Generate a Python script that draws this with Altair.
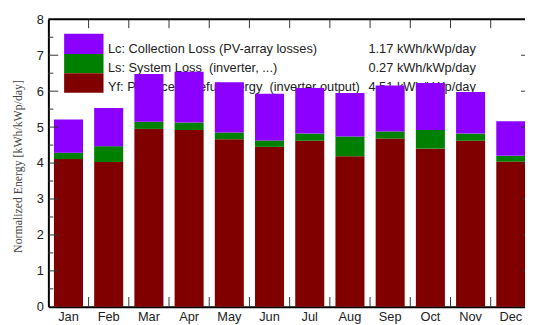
import altair as alt
import pandas as pd

# ---------------- data ----------------
months = ["Jan", "Feb", "Mar", "Apr", "May", "Jun", "Jul", "Aug", "Sep", "Oct", "Nov", "Dec"]
yf_values = [4.11, 4.03, 4.95, 4.92, 4.66, 4.45, 4.62, 4.19, 4.68, 4.40, 4.62, 4.04]
ls_values = [0.18, 0.44, 0.20, 0.21, 0.19, 0.18, 0.20, 0.55, 0.20, 0.52, 0.20, 0.16]
lc_values = [0.92, 1.06, 1.33, 1.41, 1.40, 1.30, 1.27, 1.21, 1.28, 1.31, 1.16, 0.96]

series_names = ["Yf", "Ls", "Lc"]
series_colors = ["#800000", "#008000", "#8b00ff"]

legend_labels = [
    "Lc: Collection Loss (PV-array losses)",
    "Ls: System Loss\u00a0 (inverter, ...)",
    "Yf: Produced useful energy\u00a0 (inverter output)",
]
legend_values = ["1.17 kWh/kWp/day", "0.27 kWh/kWp/day", "4.51 kWh/kWp/day"]
legend_colors = ["#8b00ff", "#008000", "#800000"]

y_major = [1, 2, 3, 4, 5, 6, 7]
y_minor = [0.5, 1.5, 2.5, 3.5, 4.5, 5.5, 6.5, 7.5]
y_labels = [0, 1, 2, 3, 4, 5, 6, 7, 8]

# ---------------- build ----------------
rows = []
for i, m in enumerate(months):
    for k, (s, vals) in enumerate(zip(series_names, [yf_values, ls_values, lc_values])):
        rows.append({"month": m, "series": s, "value": vals[i], "order": k})
df = pd.DataFrame(rows)

W, H = 484, 292
RANGE = 490
PIN, POUT = 0.278, 0.139
step = RANGE / (len(months) - PIN + 2 * POUT)
gap_half = step * POUT

FONT = "Liberation Sans"
YTITLE = "Normalized Energy [kWh/kWp/day]"

xscale = alt.Scale(domain=months, range=[0, RANGE], paddingInner=PIN, paddingOuter=POUT)
yscale = alt.Scale(domain=[0, 8], nice=False, zero=True)

xaxis = alt.Axis(title=None, labelAngle=0, domainColor="black", domainWidth=2,
                 ticks=False, labelFont=FONT, labelFontSize=13, labelColor="#222",
                 labelPadding=4, grid=False)
yaxis = alt.Axis(title=YTITLE, values=y_labels, ticks=False,
                 domainColor="black", domainWidth=2, grid=False,
                 labelFont=FONT, labelFontSize=13, labelColor="#222", labelPadding=5,
                 titleFont="Liberation Serif", titleFontSize=12, titleFontWeight="normal",
                 titleColor="#444", titleX=-27, titleY=149, titleAngle=270,
                 titleAlign="center", titleBaseline="alphabetic")

one = pd.DataFrame({"k": [0]})

bars = alt.Chart(df).mark_bar().encode(
    x=alt.X("month:N", scale=xscale, sort=months, axis=xaxis, title=None),
    y=alt.Y("value:Q", stack="zero", scale=yscale, axis=yaxis, title=YTITLE),
    color=alt.Color("series:N", scale=alt.Scale(domain=series_names, range=series_colors), legend=None),
    order=alt.Order("order:Q", sort="ascending"),
)

layers = []

# legend texts (drawn behind the bars)
text_x, value_x = 60.5, 325
baselines = [34.5, 53.5, 72.5]
for lab, val, yb in zip(legend_labels, legend_values, baselines):
    layers.append(alt.Chart(one).mark_text(align="left", baseline="alphabetic", font=FONT,
                                           fontSize=13, color="#222", text=lab)
                  .encode(x=alt.value(text_x), y=alt.value(yb)))
    layers.append(alt.Chart(one).mark_text(align="left", baseline="alphabetic", font=FONT,
                                           fontSize=13, color="#222", text=val)
                  .encode(x=alt.value(value_x), y=alt.value(yb)))

# legend swatches
sw_edges = [14.7, 35.3, 54.7, 74.7]
for c, y0, y1 in zip(legend_colors, sw_edges[:-1], sw_edges[1:]):
    layers.append(alt.Chart(one).mark_rect(color=c)
                  .encode(x=alt.value(16), x2=alt.value(56), y=alt.value(y0), y2=alt.value(y1)))

layers.append(bars)

# inward y ticks (left and right)
ymaj = pd.DataFrame({"value": y_major})
ymin = pd.DataFrame({"value": y_minor})
yenc = alt.Y("value:Q", scale=yscale, axis=yaxis, title=YTITLE)
for dfv, ln in [(ymaj, 10), (ymin, 5)]:
    layers.append(alt.Chart(dfv).mark_rule(color="#333", strokeWidth=1)
                  .encode(y=yenc, x=alt.value(0), x2=alt.value(ln)))
    layers.append(alt.Chart(dfv).mark_rule(color="#333", strokeWidth=1)
                  .encode(y=yenc, x=alt.value(RANGE - ln), x2=alt.value(RANGE)))

# inward x ticks at category boundaries (top and bottom)
bdf = pd.DataFrame({"month": months[1:]})
xenc = alt.X("month:N", scale=xscale, sort=months, bandPosition=0, axis=xaxis, title=None)
layers.append(alt.Chart(bdf).mark_rule(color="#333", strokeWidth=1, xOffset=-gap_half)
              .encode(x=xenc, y=alt.value(0), y2=alt.value(9)))
layers.append(alt.Chart(bdf).mark_rule(color="#333", strokeWidth=1, xOffset=-gap_half)
              .encode(x=xenc, y=alt.value(H - 10), y2=alt.value(H)))

# top frame line
layers.append(alt.Chart(one).mark_rule(color="black", strokeWidth=2)
              .encode(x=alt.value(0), x2=alt.value(RANGE), y=alt.value(0)))

chart = alt.layer(*layers).properties(
    width=W, height=H,
    autosize=alt.AutoSizeParams(type="none"),
    padding={"left": 41, "top": 9, "right": 0, "bottom": 16},
    background="white",
).configure_view(stroke=None)

chart.save("out.html", embed_options={"renderer": "svg", "actions": False})
